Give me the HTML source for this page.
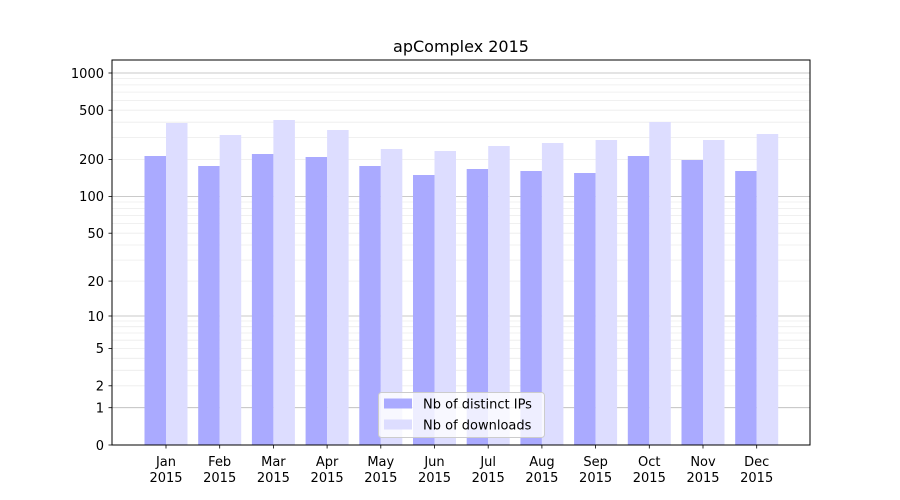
<!DOCTYPE html>
<html><head><meta charset="utf-8"><style>body{margin:0;background:#fff}svg{display:block}text{font-family:"DejaVu Sans","Liberation Sans",sans-serif;fill:#000}</style></head>
<body>
<svg width="900" height="500" viewBox="0 0 900 500" xmlns="http://www.w3.org/2000/svg">
<rect width="900" height="500" fill="#fff"/>
<g stroke="#ececec" stroke-width="0.8">
<line x1="112" x2="810" y1="385.8" y2="385.8"/><line x1="112" x2="810" y1="370.3" y2="370.3"/><line x1="112" x2="810" y1="358.3" y2="358.3"/><line x1="112" x2="810" y1="348.5" y2="348.5"/><line x1="112" x2="810" y1="340.2" y2="340.2"/><line x1="112" x2="810" y1="333" y2="333"/><line x1="112" x2="810" y1="326.7" y2="326.7"/><line x1="112" x2="810" y1="321" y2="321"/>
<line x1="112" x2="810" y1="281.1" y2="281.1"/><line x1="112" x2="810" y1="260.1" y2="260.1"/><line x1="112" x2="810" y1="245" y2="245"/><line x1="112" x2="810" y1="233.2" y2="233.2"/><line x1="112" x2="810" y1="223.6" y2="223.6"/><line x1="112" x2="810" y1="215.4" y2="215.4"/><line x1="112" x2="810" y1="208.4" y2="208.4"/><line x1="112" x2="810" y1="202" y2="202"/>
<line x1="112" x2="810" y1="159.4" y2="159.4"/><line x1="112" x2="810" y1="137.6" y2="137.6"/><line x1="112" x2="810" y1="122.2" y2="122.2"/><line x1="112" x2="810" y1="110.2" y2="110.2"/><line x1="112" x2="810" y1="100.4" y2="100.4"/><line x1="112" x2="810" y1="92.1" y2="92.1"/><line x1="112" x2="810" y1="84.9" y2="84.9"/><line x1="112" x2="810" y1="78.6" y2="78.6"/>
</g>
<g stroke="#b8b8b8" stroke-width="0.8">
<line x1="112" x2="810" y1="407.7" y2="407.7"/><line x1="112" x2="810" y1="316" y2="316"/><line x1="112" x2="810" y1="196.5" y2="196.5"/><line x1="112" x2="810" y1="73" y2="73"/>
</g>
<g fill="#aaaaff">
<rect x="144.5" y="156" width="21.5" height="289"/>
<rect x="198.2" y="166" width="21.5" height="279"/>
<rect x="251.9" y="154" width="21.5" height="291"/>
<rect x="305.6" y="157" width="21.5" height="288"/>
<rect x="359.3" y="166" width="21.5" height="279"/>
<rect x="413" y="175" width="21.5" height="270"/>
<rect x="466.7" y="169" width="21.5" height="276"/>
<rect x="520.4" y="171" width="21.5" height="274"/>
<rect x="574.1" y="173" width="21.5" height="272"/>
<rect x="627.8" y="156" width="21.5" height="289"/>
<rect x="681.5" y="160" width="21.5" height="285"/>
<rect x="735.2" y="171" width="21.5" height="274"/>
</g>
<g fill="#ddddff">
<rect x="166" y="123" width="21.5" height="322"/>
<rect x="219.7" y="135" width="21.5" height="310"/>
<rect x="273.4" y="120" width="21.5" height="325"/>
<rect x="327.1" y="130" width="21.5" height="315"/>
<rect x="380.8" y="149" width="21.5" height="296"/>
<rect x="434.5" y="151" width="21.5" height="294"/>
<rect x="488.2" y="146" width="21.5" height="299"/>
<rect x="541.9" y="143" width="21.5" height="302"/>
<rect x="595.6" y="140" width="21.5" height="305"/>
<rect x="649.3" y="122" width="21.5" height="323"/>
<rect x="703" y="140" width="21.5" height="305"/>
<rect x="756.7" y="134" width="21.5" height="311"/>
</g>
<rect x="112" y="60" width="698" height="385" fill="none" stroke="#000" stroke-width="1"/>
<g stroke="#000" stroke-width="0.8">
<line x1="108.5" x2="112" y1="445" y2="445"/><line x1="108.5" x2="112" y1="407.7" y2="407.7"/><line x1="108.5" x2="112" y1="385.8" y2="385.8"/><line x1="108.5" x2="112" y1="348.5" y2="348.5"/><line x1="108.5" x2="112" y1="316" y2="316"/><line x1="108.5" x2="112" y1="281.1" y2="281.1"/><line x1="108.5" x2="112" y1="233.2" y2="233.2"/><line x1="108.5" x2="112" y1="196.5" y2="196.5"/><line x1="108.5" x2="112" y1="159.4" y2="159.4"/><line x1="108.5" x2="112" y1="110.2" y2="110.2"/><line x1="108.5" x2="112" y1="73" y2="73"/>
</g>
<g font-size="13" text-anchor="end">
<text x="104" y="450">0</text><text x="104" y="412.5">1</text><text x="104" y="390.5">2</text><text x="104" y="353">5</text><text x="104" y="321">10</text><text x="104" y="286">20</text><text x="104" y="238">50</text><text x="104" y="201">100</text><text x="104" y="164">200</text><text x="104" y="115">500</text><text x="104" y="78">1000</text>
</g>
<g stroke="#000" stroke-width="0.8">
<line x1="166" x2="166" y1="445" y2="448.5"/><line x1="219.7" x2="219.7" y1="445" y2="448.5"/><line x1="273.4" x2="273.4" y1="445" y2="448.5"/><line x1="327.1" x2="327.1" y1="445" y2="448.5"/><line x1="380.8" x2="380.8" y1="445" y2="448.5"/><line x1="434.5" x2="434.5" y1="445" y2="448.5"/><line x1="488.2" x2="488.2" y1="445" y2="448.5"/><line x1="541.9" x2="541.9" y1="445" y2="448.5"/><line x1="595.6" x2="595.6" y1="445" y2="448.5"/><line x1="649.3" x2="649.3" y1="445" y2="448.5"/><line x1="703" x2="703" y1="445" y2="448.5"/><line x1="756.7" x2="756.7" y1="445" y2="448.5"/>
</g>
<g font-size="13" text-anchor="middle">
<text x="166" y="466">Jan</text><text x="166" y="482">2015</text>
<text x="219.7" y="466">Feb</text><text x="219.7" y="482">2015</text>
<text x="273.4" y="466">Mar</text><text x="273.4" y="482">2015</text>
<text x="327.1" y="466">Apr</text><text x="327.1" y="482">2015</text>
<text x="380.8" y="466">May</text><text x="380.8" y="482">2015</text>
<text x="434.5" y="466">Jun</text><text x="434.5" y="482">2015</text>
<text x="488.2" y="466">Jul</text><text x="488.2" y="482">2015</text>
<text x="541.9" y="466">Aug</text><text x="541.9" y="482">2015</text>
<text x="595.6" y="466">Sep</text><text x="595.6" y="482">2015</text>
<text x="649.3" y="466">Oct</text><text x="649.3" y="482">2015</text>
<text x="703" y="466">Nov</text><text x="703" y="482">2015</text>
<text x="756.7" y="466">Dec</text><text x="756.7" y="482">2015</text>
</g>
<text x="461" y="52" font-size="16" text-anchor="middle">apComplex 2015</text>
<rect x="378.5" y="392.5" width="166" height="45" rx="3" fill="#fff" fill-opacity="0.8" stroke="#cccccc"/>
<rect x="384" y="398.5" width="28" height="10" fill="#aaaaff"/>
<rect x="384" y="419.5" width="28" height="10" fill="#ddddff"/>
<text x="423" y="408.5" font-size="13">Nb of distinct IPs</text>
<text x="423" y="429.5" font-size="13">Nb of downloads</text>
</svg>
</body></html>
